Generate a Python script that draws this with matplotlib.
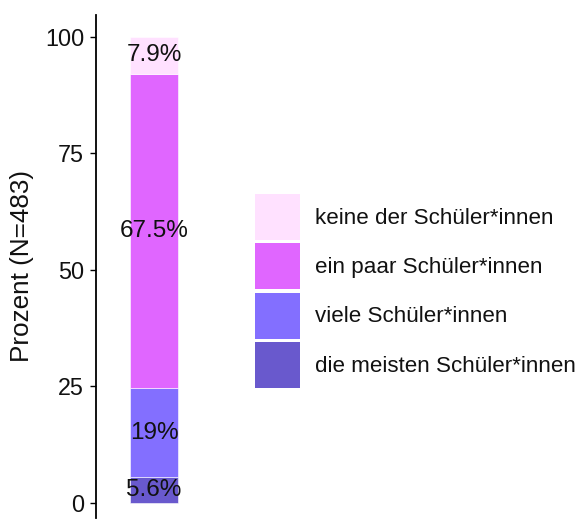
import matplotlib.pyplot as plt
from matplotlib.patches import Patch

plt.rcParams["font.family"] = ["Liberation Sans", "DejaVu Sans"]

# stacking order bottom -> top
categories = ["die meisten Schüler*innen", "viele Schüler*innen",
              "ein paar Schüler*innen", "keine der Schüler*innen"]
percent = [5.6, 19.0, 67.5, 7.9]
labels = ["5.6%", "19%", "67.5%", "7.9%"]
colors = ["#6959CD", "#836FFF", "#E066FF", "#FFE1FF"]
yticks = [0, 25, 50, 75, 100]

W, H = 581, 522
fig = plt.figure(figsize=(W / 100, H / 100), dpi=100)
ax = fig.add_axes([96 / W, (H - 518) / H, 116 / W, (518 - 15) / H])

bottom = 0
for val, lab, col in zip(percent, labels, colors):
    ax.bar(0, val, width=0.5, bottom=bottom, color=col, edgecolor="white", linewidth=0.4)
    ax.text(0, bottom + val / 2, lab, ha="center", va="center", fontsize=17.5, color="#111111")
    bottom += val

ax.set_xlim(-0.6, 0.6)
ax.set_ylim(-3.22, 104.72)
ax.set_yticks(yticks)
ax.set_xticks([])
ax.tick_params(axis="y", length=4.5, width=1, labelsize=16.8, pad=4, labelcolor="#111111")
for s in ["top", "right", "bottom"]:
    ax.spines[s].set_visible(False)
ax.spines["left"].set_linewidth(1.3)
ax.set_ylabel("Prozent (N=483)", fontsize=18.8, labelpad=8, color="#111111")
ax.set_facecolor("none")

handles = [Patch(facecolor=c, edgecolor="none") for c in colors[::-1]]
fig.legend(handles, categories[::-1], loc="center left",
           bbox_to_anchor=(246 / W, 1 - 291 / H), frameon=False,
           fontsize=16.1, handlelength=2.0, handleheight=2.8,
           labelspacing=0.14, handletextpad=0.7, borderaxespad=0,
           labelcolor="#111111")

fig.savefig("out.png", dpi=100)
